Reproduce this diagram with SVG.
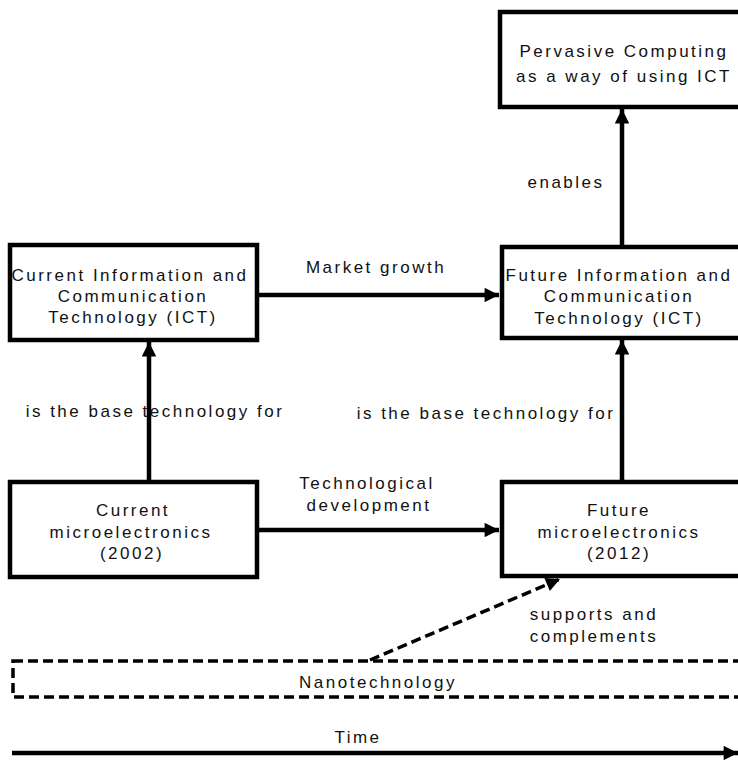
<svg xmlns="http://www.w3.org/2000/svg" width="738" height="760" viewBox="0 0 738 760">
  <style>
    .box { fill: #ffffff; stroke: #000000; stroke-width: 4.5; stroke-linejoin: miter; }
    .dbox { fill: none; stroke: #000000; stroke-width: 3.5; stroke-dasharray: 10 5; }
    .link { fill: none; stroke: #000000; stroke-width: 4.5; }
    .dlink { fill: none; stroke: #000000; stroke-width: 3.5; stroke-dasharray: 10 5; }
    text { font-family: "Liberation Sans", Arial, sans-serif; font-size: 17px; letter-spacing: 2.5px; fill: #111111; text-anchor: middle; }
  </style>
  <defs>
    <marker id="head" viewBox="0 0 10 10" refX="10" refY="5" markerWidth="3.4" markerHeight="3.2" orient="auto" markerUnits="strokeWidth">
      <path d="M0,0 L10,5 L0,10 Z" fill="#000000"/>
    </marker>
    <marker id="headThin" viewBox="0 0 10 10" refX="10" refY="5" markerWidth="4.2" markerHeight="4" orient="auto" markerUnits="strokeWidth">
      <path d="M0,0 L10,5 L0,10 Z" fill="#000000"/>
    </marker>
  </defs>

  <!-- connectors -->
  <g id="connectors">
    <line class="link" x1="622" y1="247" x2="622" y2="109" marker-end="url(#head)"/>
    <line class="link" x1="257" y1="295" x2="499" y2="295" marker-end="url(#head)"/>
    <line class="link" x1="149" y1="482" x2="149" y2="342" marker-end="url(#head)"/>
    <line class="link" x1="622" y1="482" x2="622" y2="340" marker-end="url(#head)"/>
    <line class="link" x1="257" y1="530" x2="499" y2="530" marker-end="url(#head)"/>
    <line class="dlink" x1="370" y1="660" x2="560" y2="579" marker-end="url(#headThin)"/>
    <line class="link" x1="12" y1="753" x2="738" y2="753" marker-end="url(#head)"/>
    <text x="566" y="188">enables</text>
    <text x="376" y="273">Market growth</text>
    <text x="155" y="417">is the base technology for</text>
    <text x="486" y="419">is the base technology for</text>
    <text x="367" y="489">Technological</text>
    <text x="369" y="511">development</text>
    <text x="594" y="620">supports and</text>
    <text x="594" y="642">complements</text>
    <text x="358" y="743">Time</text>
  </g>

  <g id="pervasive">
    <rect class="box" x="500" y="12" width="260" height="95"/>
    <text x="624" y="57">Pervasive Computing</text>
    <text x="624" y="82">as a way of using ICT</text>
  </g>

  <g id="current-ict">
    <rect class="box" x="10" y="245" width="247" height="95"/>
    <text x="130" y="281">Current Information and</text>
    <text x="133" y="302">Communication</text>
    <text x="133" y="323">Technology (ICT)</text>
  </g>

  <g id="future-ict">
    <rect class="box" x="502" y="247" width="260" height="91"/>
    <text x="619" y="281">Future Information and</text>
    <text x="619" y="302">Communication</text>
    <text x="619" y="324">Technology (ICT)</text>
  </g>

  <g id="current-micro">
    <rect class="box" x="10" y="482" width="247" height="95"/>
    <text x="133" y="516">Current</text>
    <text x="131" y="538">microelectronics</text>
    <text x="132" y="559">(2002)</text>
  </g>

  <g id="future-micro">
    <rect class="box" x="502" y="482" width="260" height="94"/>
    <text x="619" y="516">Future</text>
    <text x="619" y="538">microelectronics</text>
    <text x="619" y="559">(2012)</text>
  </g>

  <g id="nanotechnology">
    <rect class="dbox" x="13" y="661" width="760" height="36"/>
    <text x="378" y="688">Nanotechnology</text>
  </g>
</svg>
